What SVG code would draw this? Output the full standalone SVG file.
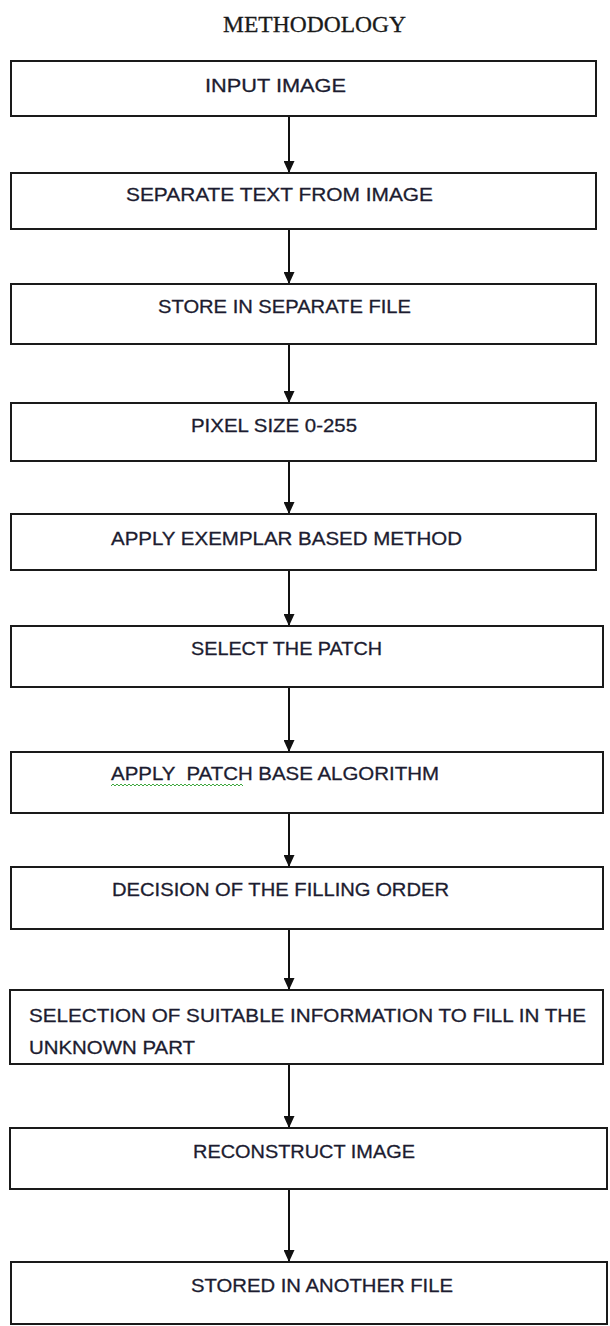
<svg xmlns="http://www.w3.org/2000/svg" width="610" height="1326" viewBox="0 0 610 1326">
<style>
.box{fill:#fff;stroke:#1a1a1a;stroke-width:2}
.lbl{font-family:"Liberation Sans",Arial,sans-serif;font-size:19px;fill:#1c1c30;stroke:#1c1c30;stroke-width:0.3}
.title{font-family:"Liberation Serif","Times New Roman",serif;font-size:23.5px;fill:#1a1a1a;stroke:#1a1a1a;stroke-width:0.3}
.conn{stroke:#111;stroke-width:2;fill:none;marker-end:url(#arr)}
</style>
<defs>
<marker id="arr" markerWidth="12" markerHeight="11" refX="12" refY="5.5" orient="auto" markerUnits="userSpaceOnUse" viewBox="0 0 12 11">
<path d="M0,0 L12,5.5 L0,11 Z" fill="#111"/>
</marker>
</defs>
<rect width="610" height="1326" fill="#fff"/>
<text class="title" x="223" y="32" textLength="183" lengthAdjust="spacingAndGlyphs">METHODOLOGY</text>
<g id="connectors">
<line class="conn" x1="289" y1="116" x2="289" y2="173"/>
<line class="conn" x1="289" y1="229" x2="289" y2="284"/>
<line class="conn" x1="289" y1="344" x2="289" y2="403"/>
<line class="conn" x1="289" y1="461" x2="289" y2="514"/>
<line class="conn" x1="289" y1="570" x2="289" y2="626"/>
<line class="conn" x1="289" y1="687" x2="289" y2="752"/>
<line class="conn" x1="289" y1="813" x2="289" y2="867"/>
<line class="conn" x1="289" y1="929" x2="289" y2="990"/>
<line class="conn" x1="289" y1="1064" x2="289" y2="1128"/>
<line class="conn" x1="289" y1="1189" x2="289" y2="1262"/>
</g>
<g id="n1"><rect class="box" x="11" y="61" width="585" height="55"/><text class="lbl" x="205" y="92" textLength="141" lengthAdjust="spacingAndGlyphs">INPUT IMAGE</text></g>
<g id="n2"><rect class="box" x="11" y="173" width="585" height="56"/><text class="lbl" x="126" y="201" textLength="307" lengthAdjust="spacingAndGlyphs">SEPARATE TEXT FROM IMAGE</text></g>
<g id="n3"><rect class="box" x="11" y="284" width="585" height="60"/><text class="lbl" x="158" y="313" textLength="253" lengthAdjust="spacingAndGlyphs">STORE IN SEPARATE FILE</text></g>
<g id="n4"><rect class="box" x="11" y="403" width="585" height="58"/><text class="lbl" x="191" y="432" textLength="166" lengthAdjust="spacingAndGlyphs">PIXEL SIZE 0-255</text></g>
<g id="n5"><rect class="box" x="11" y="514" width="585" height="56"/><text class="lbl" x="111" y="545" textLength="351" lengthAdjust="spacingAndGlyphs">APPLY EXEMPLAR BASED METHOD</text></g>
<g id="n6"><rect class="box" x="11" y="626" width="592" height="61"/><text class="lbl" x="191" y="655" textLength="191" lengthAdjust="spacingAndGlyphs">SELECT THE PATCH</text></g>
<g id="n7"><rect class="box" x="11" y="752" width="592" height="61"/><text class="lbl" x="111" y="780" textLength="328" lengthAdjust="spacingAndGlyphs" style="white-space:pre">APPLY  PATCH BASE ALGORITHM</text>
<path d="M111 786 l2 -2 2 2 2 -2 2 2 2 -2 2 2 2 -2 2 2 2 -2 2 2 2 -2 2 2 2 -2 2 2 2 -2 2 2 2 -2 2 2 2 -2 2 2 2 -2 2 2 2 -2 2 2 2 -2 2 2 2 -2 2 2 2 -2 2 2 2 -2 2 2 2 -2 2 2 2 -2 2 2 2 -2 2 2 2 -2 2 2 2 -2 2 2 2 -2 2 2 2 -2 2 2 2 -2 2 2 2 -2 2 2 2 -2 2 2 2 -2 2 2 2 -2 2 2 2 -2 2 2 2 -2 2 2 2 -2 2 2 2 -2 2 2 2 -2 2 2" fill="none" stroke="#3ea83e" stroke-width="1"/></g>
<g id="n8"><rect class="box" x="11" y="867" width="592" height="62"/><text class="lbl" x="112" y="896" textLength="337" lengthAdjust="spacingAndGlyphs">DECISION OF THE FILLING ORDER</text></g>
<g id="n9"><rect class="box" x="10" y="990" width="593" height="74"/><text class="lbl" x="29" y="1022" textLength="557" lengthAdjust="spacingAndGlyphs">SELECTION OF SUITABLE INFORMATION TO FILL IN THE</text><text class="lbl" x="29" y="1054" textLength="166" lengthAdjust="spacingAndGlyphs">UNKNOWN PART</text></g>
<g id="n10"><rect class="box" x="10" y="1128" width="597" height="61"/><text class="lbl" x="193" y="1158" textLength="222" lengthAdjust="spacingAndGlyphs">RECONSTRUCT IMAGE</text></g>
<g id="n11"><rect class="box" x="11" y="1262" width="596" height="62"/><text class="lbl" x="191" y="1292" textLength="262" lengthAdjust="spacingAndGlyphs">STORED IN ANOTHER FILE</text></g>
</svg>
